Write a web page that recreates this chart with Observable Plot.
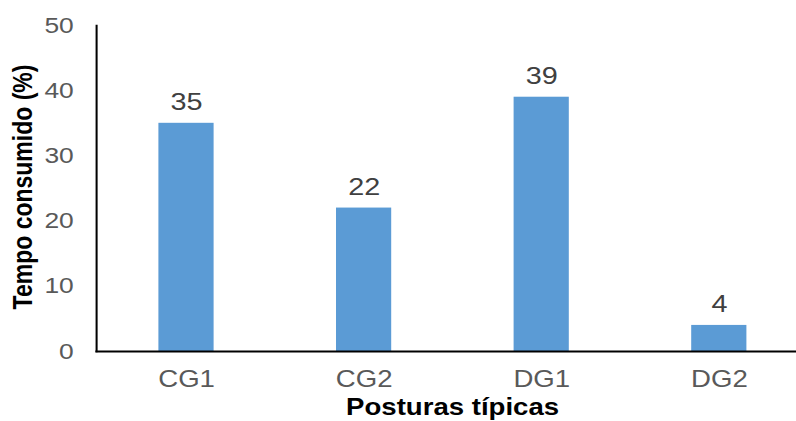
<!DOCTYPE html>
<html><head><meta charset="utf-8">
<script src="https://cdn.jsdelivr.net/npm/d3@7"></script>
<script src="https://cdn.jsdelivr.net/npm/@observablehq/plot@0.6"></script>
<style>html,body{margin:0;padding:0;background:#fff;overflow:hidden} svg{display:block}</style>
</head><body><div id="chart"></div>
<script>
const categories = ["CG1", "CG2", "DG1", "DG2"];
const values = [35, 22, 39, 4];
const yTicks = [0, 10, 20, 30, 40, 50];
const xTitle = "Posturas típicas";
const yTitle = "Tempo consumido (%)";

const data = categories.map((c, i) => ({c, v: values[i]}));
const S = 1.2;          // horizontal stretch of the reference
const W = 796 / S;
const FONT = "'Liberation Sans', Arial, sans-serif";

const plot = Plot.plot({
  width: W, height: 421,
  marginLeft: 80, marginRight: 0, marginTop: 25, marginBottom: 70,
  style: {fontFamily: FONT, background: "#fff", overflow: "visible"},
  x: {domain: categories, range: [80, 673.3], paddingInner: 0.69, paddingOuter: 0.345},
  y: {domain: [0, 50]},
  marks: [
    Plot.barY(data, {x: "c", y: "v", fill: "#5B9BD5"}),
    Plot.axisY({ticks: yTicks, tickSize: 0, tickPadding: 19, fontSize: 22, color: "#595959", label: null}),
    Plot.axisX({tickSize: 0, tickPadding: 19, fontSize: 23, color: "#595959", label: null}),
    Plot.frame({anchor: "left", stroke: "#000", strokeWidth: 1.7}),
    Plot.frame({anchor: "bottom", stroke: "#000", strokeWidth: 2}),
    Plot.text(data, {x: "c", y: "v", text: d => String(d.v), dy: -13, lineAnchor: "bottom", fontSize: 24, fill: "#404040"}),
    Plot.text([xTitle], {text: d => d, frameAnchor: "bottom", dx: 5, dy: 56, lineAnchor: "middle", fontSize: 23, fontWeight: "bold", fill: "#000"})
  ]
});

// rotated y-axis title
d3.select(plot).append("text")
  .attr("transform", "translate(19,187) rotate(-90)")
  .attr("text-anchor", "middle")
  .attr("dy", "0.35em")
  .attr("font-family", FONT)
  .attr("font-size", 23)
  .attr("font-weight", "bold")
  .attr("fill", "#000")
  .text(yTitle);

plot.setAttribute("width", 796);
plot.setAttribute("height", 421);
plot.setAttribute("preserveAspectRatio", "none");
plot.style.width = "796px";
plot.style.height = "421px";
plot.style.maxWidth = "none";
document.getElementById("chart").appendChild(plot);
</script>
</body></html>
